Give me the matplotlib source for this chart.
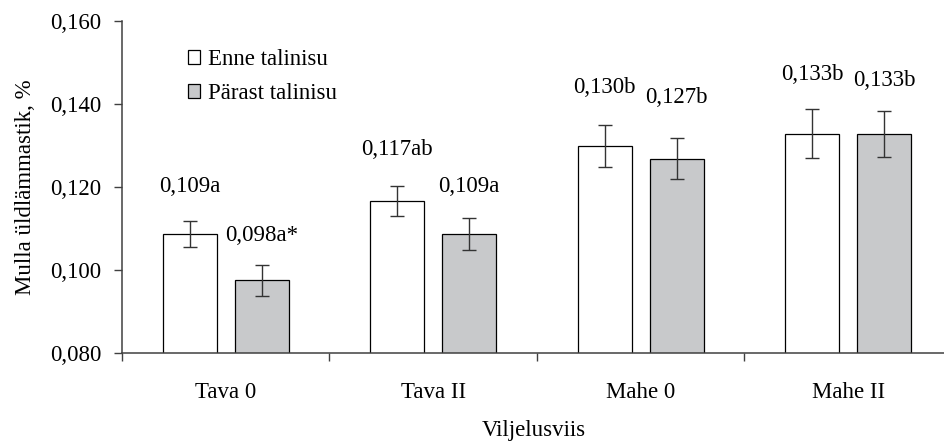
import matplotlib
matplotlib.use("Agg")
import matplotlib.pyplot as plt
import numpy as np
from matplotlib.ticker import FuncFormatter, FixedLocator

plt.rcParams["font.family"] = ["Liberation Serif", "DejaVu Serif"]

# Andmed
kategooriad = ["Tava 0", "Tava II", "Mahe 0", "Mahe II"]
enne = [0.1087, 0.1166, 0.1299, 0.1328]
parast = [0.0975, 0.1087, 0.1268, 0.1328]
enne_err = [0.0031, 0.0037, 0.0050, 0.0059]
parast_err = [0.0038, 0.0038, 0.0050, 0.0056]
enne_silt = ["0,109a", "0,117ab", "0,130b", "0,133b"]
parast_silt = ["0,098a*", "0,109a", "0,127b", "0,133b"]
enne_silt_y = [0.1201, 0.1289, 0.1439, 0.1470]
parast_silt_y = [0.1082, 0.1201, 0.1415, 0.1456]

FS = 16.5
W, H = 9.45, 4.44
fig = plt.figure(figsize=(W, H), dpi=100)
ax = fig.add_axes([0.129, 0.205, 0.871, 0.748])

x = np.arange(len(kategooriad))
bw = 0.26
off = 0.173
SPINE = "#404040"
GRAY = "#c8c9cb"

ax.bar(x - off, enne, bw, color="white", edgecolor="black",
       linewidth=0.9, label="Enne talinisu", zorder=2)
ax.bar(x + off, parast, bw, color=GRAY, edgecolor="black",
       linewidth=0.9, label="Pärast talinisu", zorder=2)
ax.errorbar(x - off, enne, yerr=enne_err, fmt="none", ecolor="#333333",
            elinewidth=1.0, capsize=5, capthick=1.0, zorder=3)
ax.errorbar(x + off, parast, yerr=parast_err, fmt="none", ecolor="#333333",
            elinewidth=1.0, capsize=5, capthick=1.0, zorder=3)

for i in range(len(x)):
    ax.text(x[i] - off, enne_silt_y[i], enne_silt[i], ha="center",
            va="center", fontsize=FS)
    ax.text(x[i] + off, parast_silt_y[i], parast_silt[i], ha="center",
            va="center", fontsize=FS)

ax.set_ylim(0.080, 0.160)
ax.set_xlim(-0.5, -0.5 + 823 / 207.5)
ax.set_yticks([0.080, 0.100, 0.120, 0.140, 0.160])
ax.yaxis.set_major_formatter(FuncFormatter(lambda v, p: f"{v:.3f}".replace(".", ",")))
ax.set_xticks(x)
ax.set_xticklabels(kategooriad)
ax.xaxis.set_minor_locator(FixedLocator([-0.5, 0.5, 1.5, 2.5]))
ax.tick_params(axis="x", which="major", length=0, pad=21, labelsize=FS)
ax.tick_params(axis="x", which="minor", length=6, color=SPINE, width=1)
ax.tick_params(axis="y", length=6, color=SPINE, width=1, labelsize=FS, pad=9)

for s in ["top", "right"]:
    ax.spines[s].set_visible(False)
for s in ["left", "bottom"]:
    ax.spines[s].set_color(SPINE)
    ax.spines[s].set_linewidth(1.1)

ax.set_ylabel("Mulla üldlämmastik, %", fontsize=FS, labelpad=10)
ax.set_xlabel("Viljelusviis", fontsize=FS, labelpad=12)

ax.legend(loc="upper left", bbox_to_anchor=(0.08, 0.915), frameon=False,
          fontsize=FS, handlelength=0.55, handleheight=0.55,
          handletextpad=0.35, labelspacing=0.58, borderaxespad=0,
          borderpad=0)

fig.savefig("out.png", dpi=100, facecolor="white")
